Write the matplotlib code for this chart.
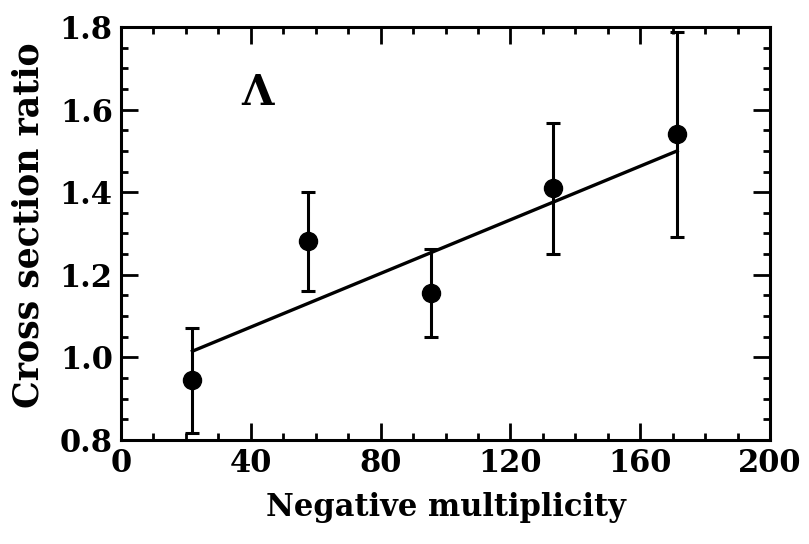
import matplotlib
matplotlib.use("Agg")
import matplotlib.pyplot as plt
from matplotlib.ticker import MultipleLocator

# Lambda cross-section ratio vs negative multiplicity
mult = [22.0, 57.5, 95.4, 133.0, 171.4]
ratio = [0.945, 1.282, 1.157, 1.409, 1.540]
err_hi = [1.072, 1.401, 1.262, 1.568, 1.787]
err_lo = [0.817, 1.160, 1.050, 1.250, 1.291]

# linear fit, drawn over the measured range
fit_x = [22.0, 171.4]
fit_y = [1.015, 1.500]

x_ticks = [0, 40, 80, 120, 160, 200]
y_ticks = [0.8, 1.0, 1.2, 1.4, 1.6, 1.8]

plt.rcParams["font.family"] = ["DejaVu Serif"]

fig = plt.figure(figsize=(8.09, 5.44), dpi=100)
ax = fig.add_axes([0.1496, 0.1912, 0.8022, 0.7592])

yerr = [[r - lo for r, lo in zip(ratio, err_lo)],
        [hi - r for r, hi in zip(ratio, err_hi)]]
ax.errorbar(mult, ratio, yerr=yerr, fmt="o", color="black", ms=13,
            elinewidth=2.2, capsize=5, capthick=2.2, zorder=3)
ax.plot(fit_x, fit_y, color="black", lw=2.4, zorder=2)

ax.text(41.9, 1.64, "Λ", fontsize=30, fontweight="bold",
        ha="center", va="center")

ax.set_xlim(0, 200)
ax.set_ylim(0.8, 1.8)
ax.set_xticks(x_ticks)
ax.set_yticks(y_ticks)
ax.set_xticklabels([str(t) for t in x_ticks])
ax.set_yticklabels([f"{t:.1f}" for t in y_ticks])
ax.xaxis.set_minor_locator(MultipleLocator(10))
ax.yaxis.set_minor_locator(MultipleLocator(0.05))
ax.tick_params(which="both", direction="in", top=True, right=True,
               width=2, labelsize=22)
ax.tick_params(which="major", length=12, pad=6)
ax.tick_params(which="minor", length=5)
for lbl in ax.get_xticklabels() + ax.get_yticklabels():
    lbl.set_fontweight("bold")
for s in ax.spines.values():
    s.set_linewidth(2.2)

ax.set_xlabel("Negative multiplicity", fontsize=22, fontweight="bold",
              labelpad=9)
ax.set_ylabel("Cross section ratio", fontsize=25, fontweight="bold")
ax.yaxis.set_label_coords(-0.117, 0.52)

fig.savefig("out.png", dpi=100)
